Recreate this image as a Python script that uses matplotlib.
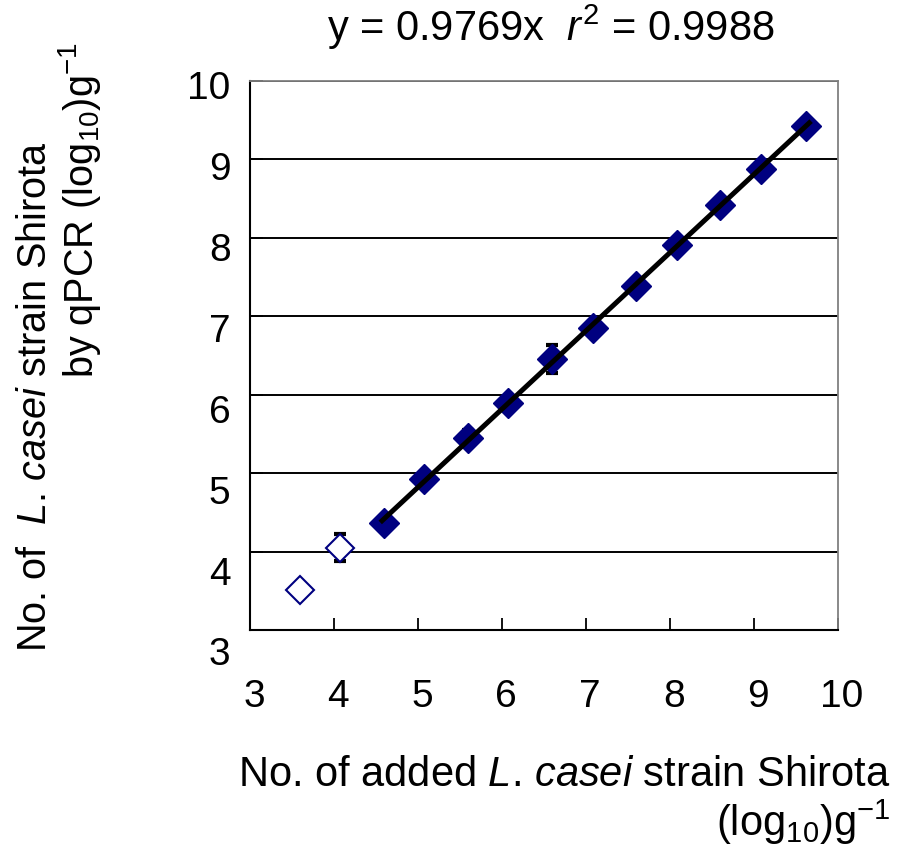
import numpy as np
import matplotlib
matplotlib.use("Agg")
import matplotlib.pyplot as plt
from matplotlib.transforms import ScaledTranslation

plt.rcParams['font.family'] = ['Liberation Sans', 'DejaVu Sans']
plt.rcParams['mathtext.fontset'] = 'custom'
plt.rcParams['mathtext.rm'] = 'Liberation Sans'
plt.rcParams['mathtext.it'] = 'Liberation Sans:italic'

# added cells (log10/g) vs. qPCR result (log10/g)
x_fit = [4.60, 5.07, 5.60, 6.07, 6.60, 7.08, 7.60, 8.08, 8.60, 9.08, 9.62]
y_fit = [4.37, 4.92, 5.45, 5.89, 6.46, 6.85, 7.38, 7.91, 8.42, 8.88, 9.43]
err_fit = [0.04, 0.04, 0.10, 0.04, 0.18, 0.04, 0.04, 0.04, 0.04, 0.04, 0.04]

# points below the quantification range (not used in the fit)
x_low = [3.60, 4.07]
y_low = [3.51, 4.05]
err_low = [0.0, 0.17]

ticks = [3, 4, 5, 6, 7, 8, 9, 10]
title = 'y = 0.9769x  $r^2$ = 0.9988'

navy = '#000080'

fig = plt.figure(figsize=(9, 8.48), dpi=100)
ax = fig.add_axes([0.2778, 0.2571, 0.6533, 0.6474])

ax.errorbar(x_fit, y_fit, yerr=err_fit, fmt='none', ecolor='black',
            elinewidth=1.5, capsize=4, capthick=3, zorder=2)
ax.errorbar(x_low, y_low, yerr=err_low, fmt='none', ecolor='black',
            elinewidth=1.5, capsize=4, capthick=3, zorder=2)

ax.plot(x_fit, y_fit, linestyle='none', marker='D', markersize=15,
        color=navy, markeredgecolor=navy, zorder=3)
ax.plot(x_low, y_low, linestyle='none', marker='D', markersize=14,
        markerfacecolor='white', markeredgecolor=navy, markeredgewidth=1.5,
        zorder=3)

# regression line through the quantified points
k, b = np.polyfit(x_fit, y_fit, 1)
xl = np.array([min(x_fit) - 0.05, max(x_fit) + 0.06])
ax.plot(xl, k * xl + b, color='black', linewidth=3.6, zorder=4,
        solid_capstyle='butt')

ax.set_xlim(3, 10)
ax.set_ylim(3, 10)
ax.set_xticks(ticks)
ax.set_yticks(ticks)
ax.grid(axis='y', color='black', linewidth=1.4)
ax.set_axisbelow(True)

for s in ['left', 'bottom']:
    ax.spines[s].set_color('black')
    ax.spines[s].set_linewidth(1.5)
for s in ['top', 'right']:
    ax.spines[s].set_color('#808080')
    ax.spines[s].set_linewidth(1.3)

ax.tick_params(direction='in', length=9, width=1.3, labelsize=28)
ax.tick_params(axis='x', pad=35)
ax.tick_params(axis='y', pad=14)

# Excel-style label placement drifts slightly from the ticks
for lab, v in zip(ax.get_yticklabels(), ticks):
    off = (4 + (10 - v) * 2.5) / 100.0
    lab.set_transform(lab.get_transform() + ScaledTranslation(0, -off, fig.dpi_scale_trans))
for lab in ax.get_xticklabels():
    lab.set_transform(lab.get_transform() + ScaledTranslation(0.04, 0, fig.dpi_scale_trans))

fig.text(0.612, 1 - 41 / 848, title, fontsize=30, ha='center', va='baseline')

fig.text(0.989, 1 - 786 / 848, r'No. of added $\mathit{L}$. $\mathit{casei}$ strain Shirota',
         fontsize=30, ha='right', va='baseline')
fig.text(0.989, 1 - 836 / 848, r'(log$_{10}$)g$^{-1}$',
         fontsize=30, ha='right', va='baseline')

fig.text(35 / 900, 1 - 397 / 848, r'No. of  $\mathit{L}$. $\mathit{casei}$ strain Shirota',
         fontsize=28.5, rotation=90, ha='center', va='center')
fig.text(80 / 900, 1 - 210 / 848, r'by qPCR (log$_{10}$)g$^{-1}$',
         fontsize=28.5, rotation=90, ha='center', va='center')

fig.savefig('out.png', dpi=100)
